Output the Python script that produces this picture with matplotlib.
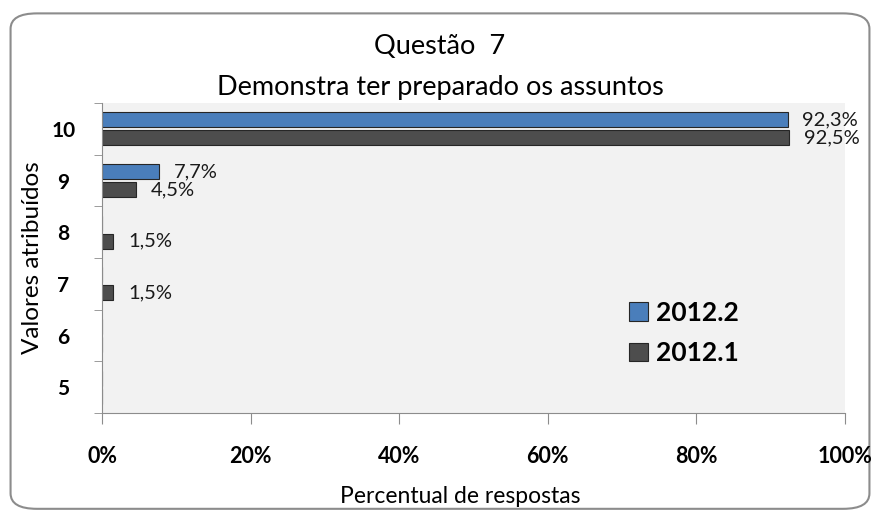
import numpy as np
import matplotlib
matplotlib.use("Agg")
import matplotlib.pyplot as plt
from matplotlib.patches import FancyBboxPatch
from matplotlib.ticker import FuncFormatter

plt.rcParams['font.family'] = ['Lato', 'DejaVu Sans']

# --- data --- #
categories = ['5', '6', '7', '8', '9', '10']
series_names = ['2012.2', '2012.1']
vals_2012_2 = [0, 0, 0, 0, 7.7, 92.3]
vals_2012_1 = [0, 0, 1.5, 1.5, 4.5, 92.5]
colors = ['#4a7ebb', '#4d4d4d']

fig = plt.figure(figsize=(8.8, 5.15), dpi=100)

# rounded outer frame
frame = FancyBboxPatch((0.012, 0.012), 0.976, 0.962,
                       boxstyle='round,pad=0,rounding_size=0.03',
                       transform=fig.transFigure, facecolor='white',
                       edgecolor='#8c8c8c', linewidth=1.5, zorder=-10)
fig.patches.append(frame)

ax = fig.add_axes([0.116, 0.198, 0.844, 0.602])
ax.set_facecolor('#f2f2f2')

ind = np.arange(len(categories))
h = 0.29
series = [vals_2012_2, vals_2012_1]
offsets = [h / 2 + 0.03, -h / 2 - 0.03]
for i, vals in enumerate(series):
    bars = ax.barh(ind + offsets[i], vals, h, color=colors[i],
                   edgecolor='#262626', linewidth=0.8, label=series_names[i])
    for b, v in zip(bars, vals):
        if v > 0:
            ax.text(v + 2.0, b.get_y() + b.get_height() / 2,
                    '{:.1f}%'.format(v).replace('.', ','),
                    va='center', ha='left', fontsize=14.5, color='#1a1a1a',
                    clip_on=False)

ax.set_xlim(0, 100)
ax.set_ylim(-0.5, len(categories) - 0.5)
ax.set_xticks(np.arange(0, 101, 20))
ax.xaxis.set_major_formatter(FuncFormatter(lambda x, p: '{:d}%'.format(int(x))))
ax.set_yticks(ind)
ax.set_yticklabels(categories, fontweight='bold', ha='center')
ax.set_yticks(np.arange(-0.5, len(categories), 1), minor=True)
ax.tick_params(axis='y', which='major', length=0, pad=28, labelsize=15)
ax.tick_params(axis='y', which='minor', length=6, color='#8c8c8c')
ax.tick_params(axis='x', which='major', length=8, color='#8c8c8c', pad=16, labelsize=15.5)
for lbl in ax.get_xticklabels():
    lbl.set_fontweight('bold')

for s in ['top', 'right']:
    ax.spines[s].set_visible(False)
for s in ['left', 'bottom']:
    ax.spines[s].set_color('#8c8c8c')

ax.set_ylabel('Valores atribuídos', fontsize=17.5)
ax.yaxis.set_label_coords(-0.08, 0.5)

fig.text(0.5, 0.909, 'Questão  7', ha='center', va='center', fontsize=19.5)
fig.text(0.5, 0.831, 'Demonstra ter preparado os assuntos', ha='center',
         va='center', fontsize=19.5)
fig.text(0.523, 0.035, 'Percentual de respostas', ha='center', va='center',
         fontsize=16.5)

ax.legend(loc='center left', bbox_to_anchor=(0.678, 0.258), frameon=False,
          handlelength=0.7, handleheight=0.7, handletextpad=0.3,
          labelspacing=0.62, prop={'weight': 'bold', 'size': 19})

fig.savefig('out.png', dpi=100)
